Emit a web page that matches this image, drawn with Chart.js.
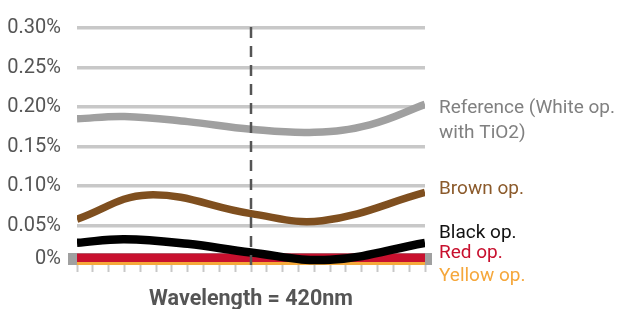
<!DOCTYPE html>
<html>
<head>
<meta charset="utf-8">
<script src="https://cdn.jsdelivr.net/npm/chart.js@4/dist/chart.umd.min.js"></script>
<style>
  html, body { margin: 0; padding: 0; background: #ffffff; }
  #wrap { width: 617px; height: 309px; position: relative; }
</style>
</head>
<body>
<div id="wrap"><canvas id="c" width="617" height="309"></canvas></div>
<script>
// ---- data (x = wavelength step index 0..22, y = value in %) ----
const referenceX      = [0, 3, 7, 11, 15, 18.5, 22];
const referenceValues = [0.185, 0.188, 0.1815, 0.1718, 0.168, 0.1775, 0.2033];
const brownX          = [0, 4.5, 11, 15.5, 22];
const brownValues     = [0.058, 0.0887, 0.065, 0.0561, 0.0918];
const blackX          = [0, 3, 7, 11, 16, 22];
const blackValues     = [0.028, 0.0326, 0.0268, 0.0157, 0.0066, 0.028];
const redX            = [0, 22];
const redValues       = [0.0093, 0.0093];
const yellowX         = [0, 22];
const yellowValues    = [0.0019, 0.0019];
const seriesNames = ["Reference (White op.\nwith TiO2)", "Brown op.", "Black op.", "Red op.", "Yellow op."];
const yTickValues = [0.0075, 0.05, 0.10, 0.15, 0.20, 0.25, 0.30];
const yTickLabels = ["0%", "0.05%", "0.10%", "0.15%", "0.20%", "0.25%", "0.30%"];
const xTickCount = 23;          // wavelength steps 0..22
const markerIndex = 11;         // Wavelength = 420nm
const xTitle = "Wavelength = 420nm";
const baselineValue = yTickValues[0];

// ---- styles / label anchors (value units of the y scale) ----
const colors = ['#a0a0a0', '#7f4f1f', '#000000', '#c8102e', '#f5a93b'];
const textColors = ['#808080', '#8b5a2b', '#111111', '#c8102e', '#f5a73b'];
const widths = [7.5, 7.5, 8.5, 8.5, 4.5];
const labelAnchors = [[0.1921, 0.1611], [0.0899], [0.0347], [0.0087], [-0.0198]];

const xs = [referenceX, brownX, blackX, redX, yellowX];
const ys = [referenceValues, brownValues, blackValues, redValues, yellowValues];

const datasets = ys.map((vals, i) => ({
  label: seriesNames[i],
  data: vals.map((v, k) => ({ x: xs[i][k], y: v })),
  borderColor: colors[i],
  borderWidth: widths[i],
  pointRadius: 0,
  tension: 0.4,
  fill: false,
  borderCapStyle: 'butt',
  order: [5, 4, 1, 2, 3][i]
}));

const decor = {
  id: 'decor',
  beforeDatasetsDraw(chart) {
    const { ctx, chartArea, scales: { y } } = chart;
    const yy = y.getPixelForValue(baselineValue);
    ctx.save();
    ctx.strokeStyle = '#a0a0a0';
    ctx.lineWidth = 12;
    ctx.beginPath();
    ctx.moveTo(chartArea.left - 9, yy);
    ctx.lineTo(chartArea.right + 7, yy);
    ctx.stroke();
    ctx.restore();
  },
  afterDatasetsDraw(chart) {
    const { ctx, chartArea, scales: { x, y } } = chart;
    const xx = x.getPixelForValue(markerIndex);
    ctx.save();
    ctx.strokeStyle = '#555555';
    ctx.lineWidth = 2.5;
    ctx.setLineDash([11, 8]);
    ctx.beginPath();
    ctx.moveTo(xx, chartArea.top - 1);
    ctx.lineTo(xx, chartArea.bottom);
    ctx.stroke();
    ctx.setLineDash([]);
    ctx.font = '19px Roboto';
    ctx.textAlign = 'left';
    ctx.textBaseline = 'alphabetic';
    chart.data.datasets.forEach((ds, i) => {
      const lines = ds.label.split('\n');
      ctx.fillStyle = textColors[i];
      lines.forEach((t, k) => {
        ctx.fillText(t, chartArea.right + 14, y.getPixelForValue(labelAnchors[i][k]));
      });
    });
    ctx.restore();
  }
};

new Chart(document.getElementById('c'), {
  type: 'line',
  data: { datasets },
  plugins: [decor],
  options: {
    responsive: false,
    animation: false,
    layout: { padding: { left: 0, right: 192, top: 23, bottom: 0 } },
    plugins: { legend: { display: false }, tooltip: { enabled: false } },
    scales: {
      x: {
        type: 'linear',
        min: 0,
        max: xTickCount - 1,
        ticks: { stepSize: 1, display: false },
        grid: { drawOnChartArea: false, drawTicks: true, tickLength: 7, tickColor: '#c8c8c8', tickWidth: 2 },
        border: { display: false },
        title: {
          display: true,
          text: xTitle,
          color: '#555555',
          font: { family: 'Roboto', size: 21.5, weight: 'bold', lineHeight: 1 },
          padding: { top: 0, bottom: -1.5 }
        },
        afterFit(scale) { scale.height = 44; }
      },
      y: {
        min: 0,
        max: 0.30,
        afterBuildTicks(scale) { scale.ticks = yTickValues.map(v => ({ value: v })); },
        ticks: {
          color: '#555555',
          font: { family: 'Roboto', size: 20 },
          padding: 16,
          callback: (v, i) => yTickLabels[i]
        },
        grid: {
          drawTicks: false,
          lineWidth: 3.5,
          color: ctx => (ctx.tick && ctx.tick.value === baselineValue) ? 'rgba(0,0,0,0)' : '#c8c8c8'
        },
        border: { display: false },
        afterFit(scale) { scale.width = 77; }
      }
    }
  }
});
</script>
</body>
</html>
